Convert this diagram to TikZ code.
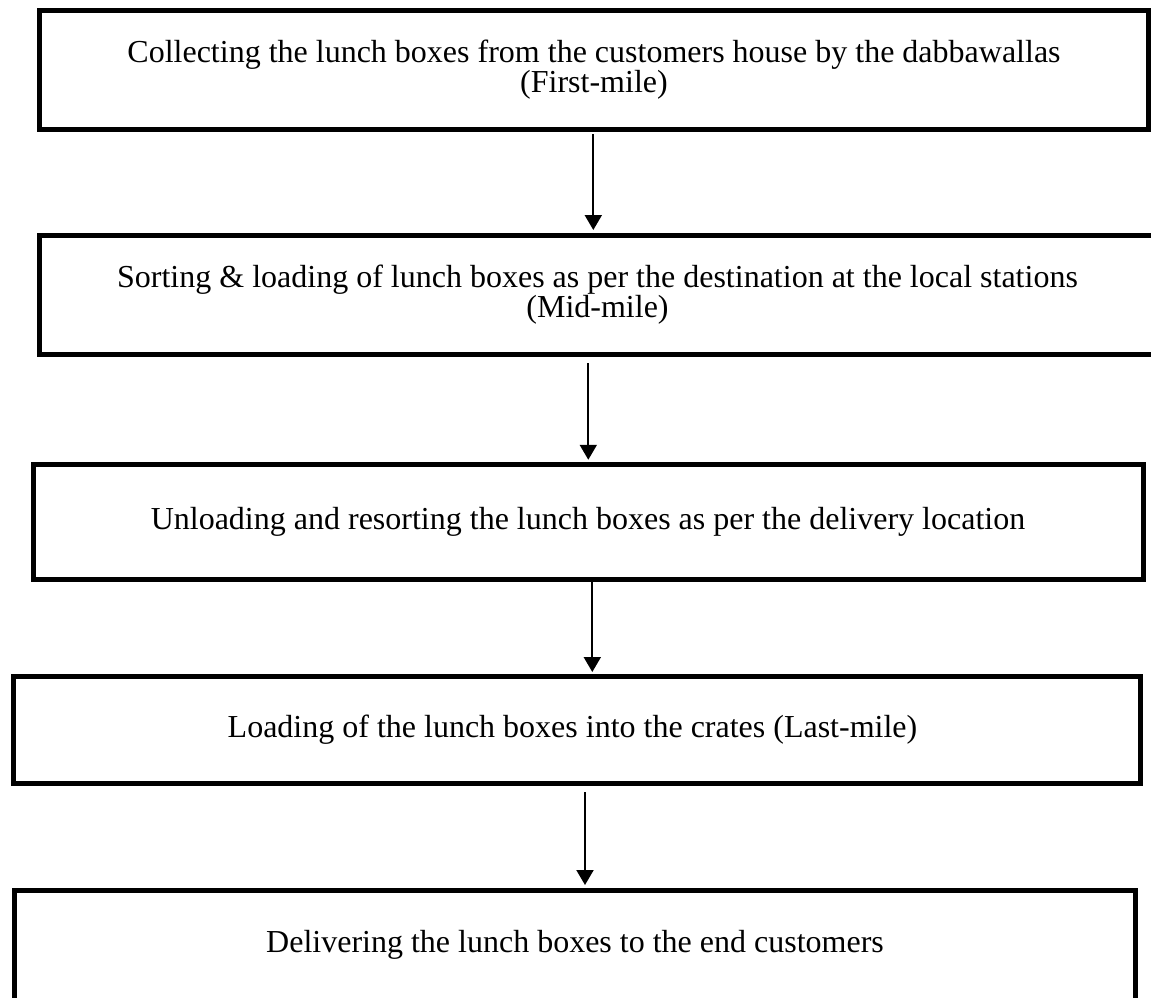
\documentclass[tikz,border=0pt]{standalone}
\usepackage{fontspec}
\setmainfont{Liberation Serif}
\usetikzlibrary{arrows.meta}
\begin{document}
\begin{tikzpicture}[x=1pt,y=-1pt,
  stepbox/.style={draw=black,line width=5pt,rectangle,inner sep=0pt,align=center,
    font=\fontsize{32}{28}\selectfont},
  arr/.style={line width=2pt,-{Triangle[width=17pt,length=15pt]}}]
\clip (0,0) rectangle (1151,998);
\fill[white] (0,0) rectangle (1151,998);
\node[stepbox,minimum width=1109.5pt,minimum height=119pt] (b1) at (594,70)
  {Collecting the lunch boxes from the customers house by the dabbawallas\\(First-mile)};
\node[stepbox,minimum width=1116pt,minimum height=119.5pt] (b2) at (597.5,294.75)
  {Sorting \& loading of lunch boxes as per the destination at the local stations\\(Mid-mile)};
\node[stepbox,minimum width=1110pt,minimum height=114.5pt] (b3) at (588,522)
  {Unloading and resorting the lunch boxes as per the delivery location};
\node[stepbox,minimum width=1126.5pt,minimum height=107pt] (b4) at (577,730)
  {\hspace*{-9pt}Loading of the lunch boxes into the crates (Last-mile)};
\node[stepbox,minimum width=1121.5pt,minimum height=110pt] (b5) at (575,945)
  {Delivering the lunch boxes to the end customers};
\draw[arr,shorten >=2.5pt,shorten <=2pt] (593.3,0 |- b1.south) -- (593.3,0 |- b2.north);
\draw[arr,shorten >=2.5pt,shorten <=6pt] (588.3,0 |- b2.south) -- (588.3,0 |- b3.north);
\draw[arr,shorten >=2pt,shorten <=0pt] (592.3,0 |- b3.south) -- (592.3,0 |- b4.north);
\draw[arr,shorten >=2.5pt,shorten <=6pt] (585,0 |- b4.south) -- (585,0 |- b5.north);
\end{tikzpicture}
\end{document}
